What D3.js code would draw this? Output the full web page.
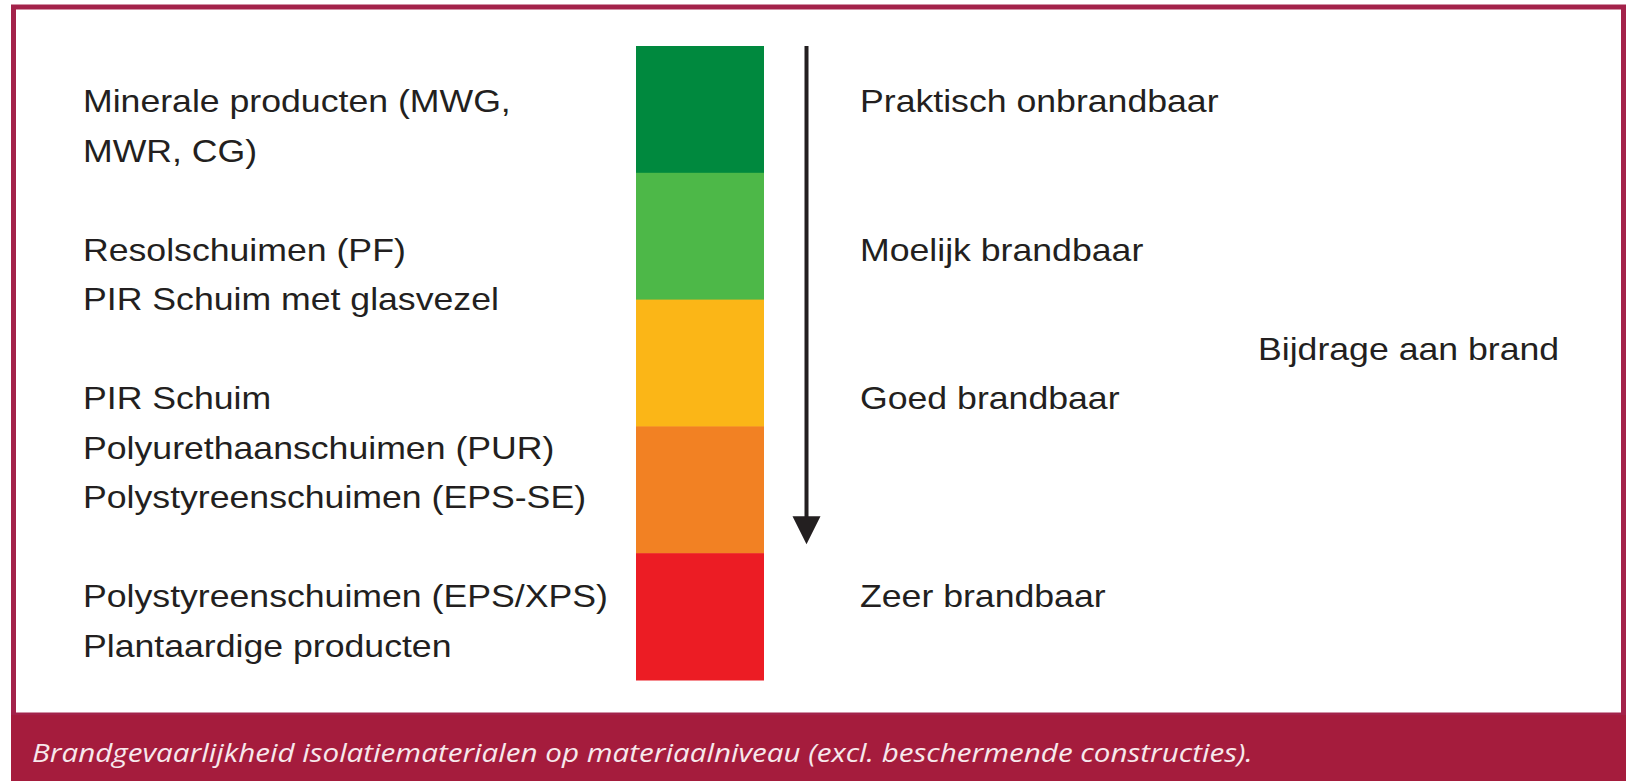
<!DOCTYPE html>
<meta charset="utf-8">
<style>
  body { margin: 0; background: #fff; }
  text { font-family: "Liberation Sans", Arial, sans-serif; fill: #231f20; }
  text.caption { font-family: "Open Sans", sans-serif; font-style: italic; fill: #f7e8ec; }
</style>
<svg width="1626" height="781"></svg>
<script src="https://d3js.org/d3.v7.min.js"></script>
<script>

// materials per class, from least to most combustible
var materials = [
  ["Minerale producten (MWG,", "MWR, CG)"],
  ["Resolschuimen (PF)", "PIR Schuim met glasvezel"],
  ["PIR Schuim", "Polyurethaanschuimen (PUR)", "Polystyreenschuimen (EPS-SE)"],
  ["Polystyreenschuimen (EPS/XPS)", "Plantaardige producten"]
];
var ratings = ["Praktisch onbrandbaar", "Moelijk brandbaar", "Goed brandbaar", "Zeer brandbaar"];
var segmentColors = ["#00893e", "#4db848", "#fbb617", "#f28123", "#ec1c24"];
var axisTitle = "Bijdrage aan brand";
var caption = "Brandgevaarlijkheid isolatiematerialen op materiaalniveau (excl. beschermende constructies).";

var svg = d3.select("svg"),
    width = +svg.attr("width"),
    height = +svg.attr("height"),
    footerTop = 715,
    stretch = 1.15,
    fontSize = 31;

// every group takes its lines plus one empty row after it
var rows = [], groupStart = [], r = 0;
materials.forEach(function(lines) {
  groupStart.push(r);
  lines.forEach(function(t) { rows.push({row: r++, text: t}); });
  r++;
});
var nRows = r - 1;

var y = d3.scaleLinear().domain([0, nRows - 1]).range([101, 645.5]);
var band = d3.scaleBand().domain(d3.range(segmentColors.length)).range([46, 680]);

// frame + footer
svg.append("rect")
    .attr("x", 13.5).attr("y", 7)
    .attr("width", width - 16).attr("height", footerTop - 7)
    .attr("fill", "none")
    .attr("stroke", "#a3224a")
    .attr("stroke-width", 5);

svg.append("rect")
    .attr("x", 11).attr("y", footerTop)
    .attr("width", width).attr("height", height - footerTop)
    .attr("fill", "#a51c3d");

// colour bar
svg.append("g").selectAll("rect")
  .data(segmentColors)
  .join("rect")
    .attr("x", 636)
    .attr("width", 128)
    .attr("y", function(d, i) { return band(i); })
    .attr("height", band.bandwidth() + 0.5)
    .attr("fill", function(d) { return d; });

// arrow
var ax = 806.5,
    tipY = band(3) + band.bandwidth() - 9;
svg.append("line")
    .attr("x1", ax).attr("x2", ax)
    .attr("y1", band(0)).attr("y2", tipY - 20)
    .attr("stroke", "#231f20")
    .attr("stroke-width", 4);
svg.append("path")
    .attr("d", "M" + (ax - 14) + "," + (tipY - 28) + "L" + (ax + 14) + "," + (tipY - 28) + "L" + ax + "," + tipY + "Z")
    .attr("fill", "#231f20");

function label(g, x, rowIdx, t) {
  g.append("text")
      .attr("transform", "translate(" + x + "," + (y(rowIdx) + 11) + ") scale(" + stretch + ",1)")
      .attr("font-size", fontSize)
      .text(t);
}

var left = svg.append("g");
rows.forEach(function(d) { label(left, 83, d.row, d.text); });

var right = svg.append("g");
ratings.forEach(function(t, i) { label(right, 860, groupStart[i], t); });
label(right, 1258, groupStart[2] - 1, axisTitle);

// caption
var cap = svg.append("text")
    .attr("class", "caption")
    .attr("font-size", 26)
    .text(caption);
var sx = 1221 / cap.node().getComputedTextLength();
cap.attr("transform", "translate(32,762) scale(" + sx + ",1)");

</script>
